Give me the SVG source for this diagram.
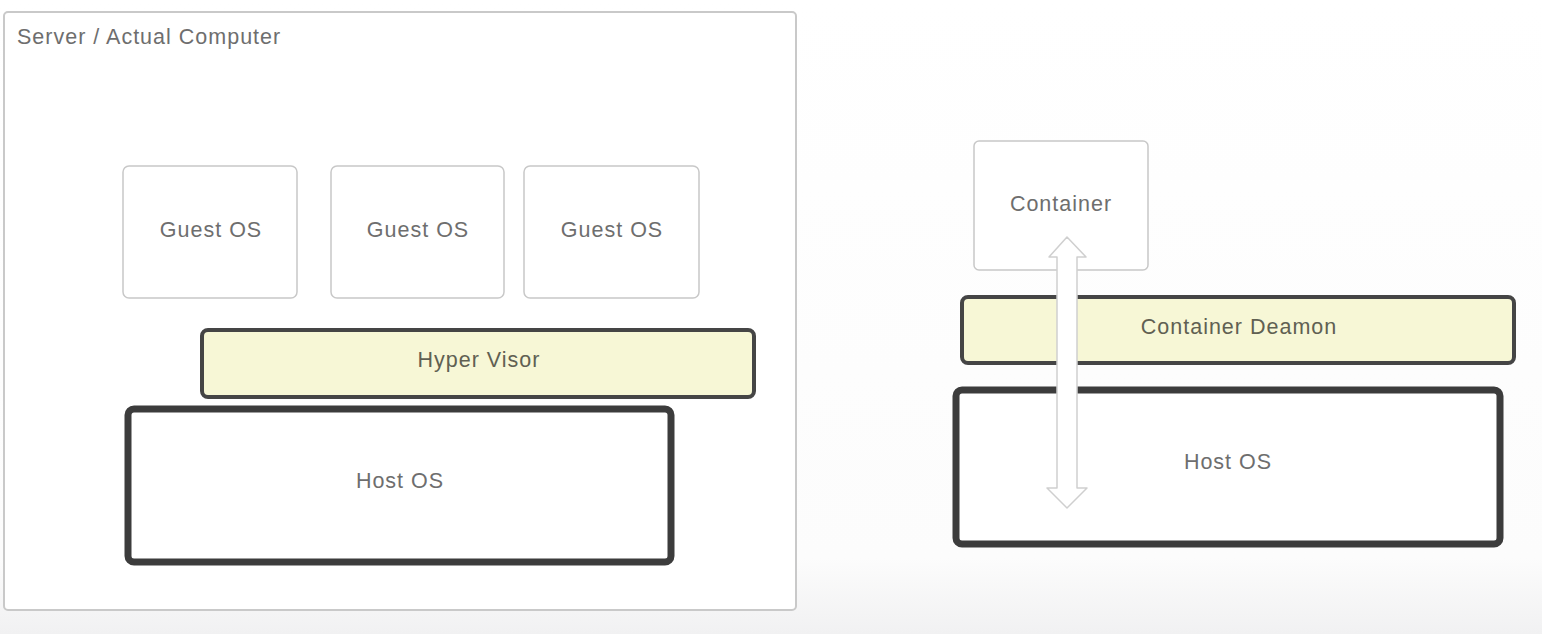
<svg xmlns="http://www.w3.org/2000/svg" width="1542" height="634" viewBox="0 0 1542 634">
<defs>
<linearGradient id="bg" x1="0" y1="0" x2="0" y2="1">
<stop offset="0" stop-color="#ffffff"/>
<stop offset="0.88" stop-color="#fcfcfc"/>
<stop offset="1" stop-color="#f1f1f2"/>
</linearGradient>
<style>
.lbl{font-family:"Liberation Sans",Arial,sans-serif;font-size:21.5px;letter-spacing:1px;fill:#6e6e6e;text-anchor:middle;dominant-baseline:central}
.light{fill:#ffffff;stroke:#c8c8c8;stroke-width:1.5}
.layer{fill:#f7f7d6;stroke:#454545;stroke-width:4}
.host{fill:#ffffff;stroke:#3c3c3c;stroke-width:7}
.lbl2{fill:#606052}
</style>
</defs>
<rect x="0" y="0" width="1542" height="634" fill="url(#bg)"/>
<g id="server">
<rect x="4" y="12" width="792" height="598" rx="4" fill="#ffffff" stroke="#c9c9c9" stroke-width="2"/>
<text x="17" y="37" class="lbl" style="text-anchor:start">Server / Actual Computer</text>
</g>
<g id="guest1">
<rect class="light" x="123" y="166" width="174" height="132" rx="6"/>
<text class="lbl" x="211" y="230">Guest OS</text>
</g>
<g id="guest2">
<rect class="light" x="331" y="166" width="173" height="132" rx="6"/>
<text class="lbl" x="418" y="230">Guest OS</text>
</g>
<g id="guest3">
<rect class="light" x="524" y="166" width="175" height="132" rx="6"/>
<text class="lbl" x="612" y="230">Guest OS</text>
</g>
<g id="hypervisor">
<rect class="layer" x="202" y="330" width="552" height="67" rx="6"/>
<text class="lbl lbl2" x="479" y="360">Hyper Visor</text>
</g>
<g id="hostos-left">
<rect class="host" x="128" y="409" width="543" height="153" rx="6"/>
<text class="lbl" x="400" y="481">Host OS</text>
</g>
<g id="container">
<rect class="light" x="974" y="141" width="174" height="129" rx="5"/>
<text class="lbl" x="1061" y="204">Container</text>
</g>
<g id="container-daemon">
<rect class="layer" x="962" y="297" width="552" height="66" rx="6"/>
<text class="lbl lbl2" x="1239" y="327">Container Deamon</text>
</g>
<g id="hostos-right">
<rect class="host" x="956" y="390" width="544" height="154" rx="6"/>
<text class="lbl" x="1228" y="462">Host OS</text>
</g>
<g id="connectors">
<path d="M1067 237 L1086 257 L1077 257 L1077 488 L1087 488 L1067 508 L1047 488 L1057 488 L1057 257 L1049 257 Z" fill="#ffffff" stroke="#cfcfcf" stroke-width="1.5" stroke-linejoin="round"/>
</g>
</svg>
